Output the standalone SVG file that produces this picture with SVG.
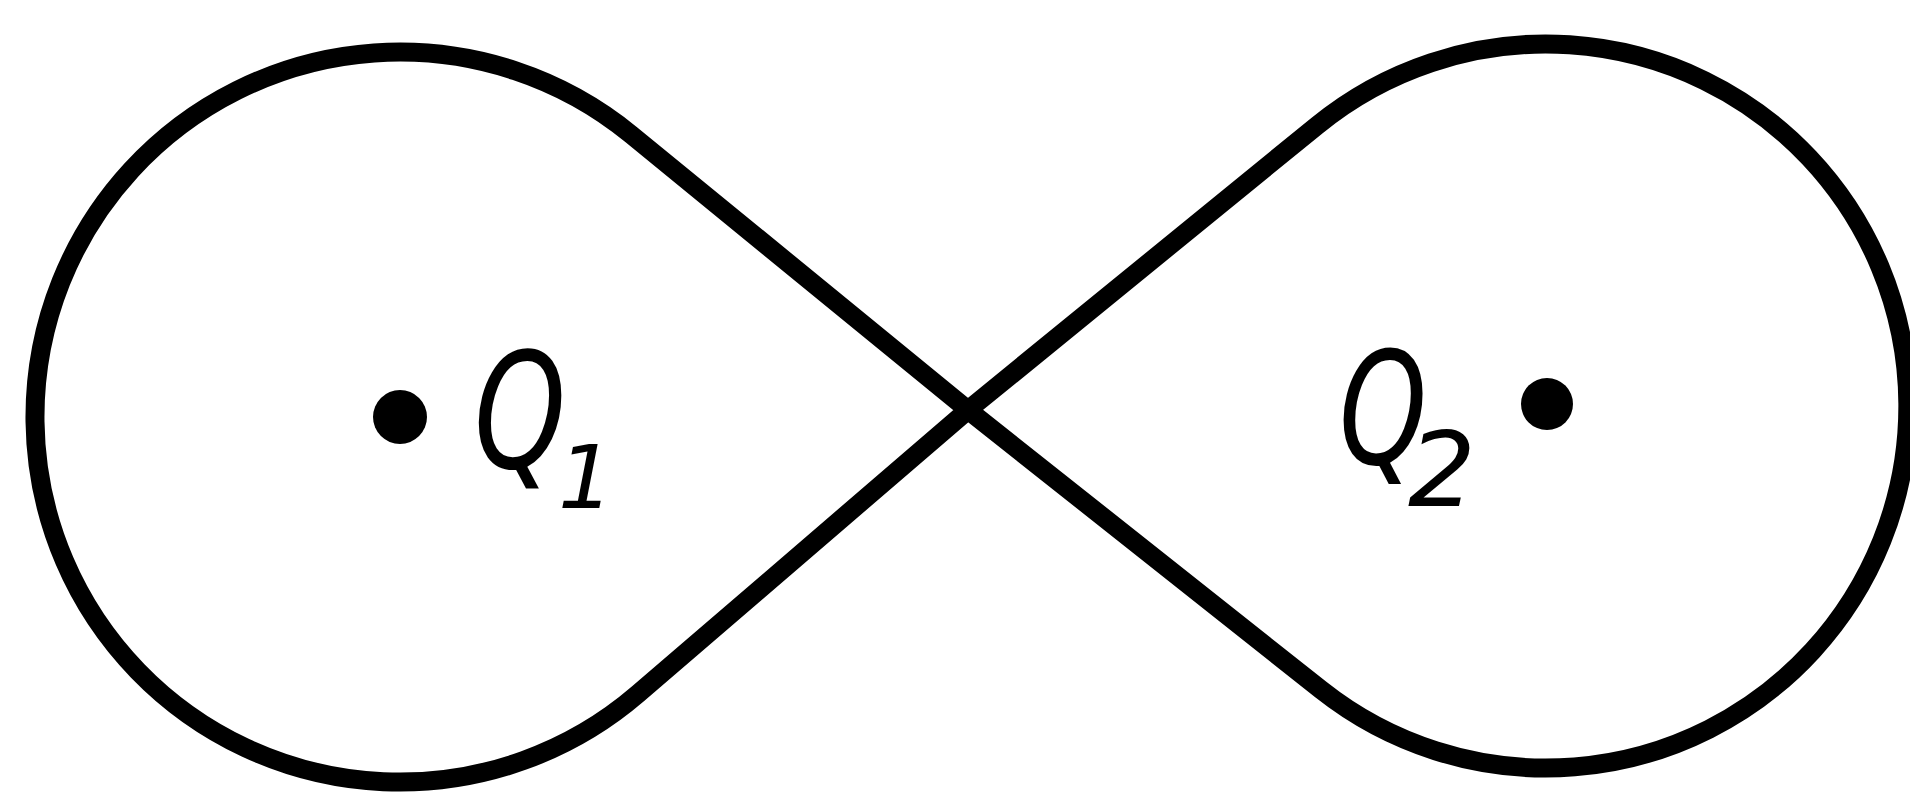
<svg xmlns="http://www.w3.org/2000/svg" width="1910" height="793" viewBox="0 0 1910 793">
  <style>
    .curve { fill: none; stroke: #000; stroke-width: 19; stroke-linejoin: round; stroke-linecap: round; }
    .dot { fill: #000; }
    .lbl { font-family: "DejaVu Sans", "Liberation Sans", sans-serif; font-style: oblique; fill: #000; }
  </style>
  <rect width="1910" height="793" fill="#fff"/>
  <g id="connectors">
    <path class="curve" d="M968,410 L631,134.5 A365,365 0 1 0 638,693.8 L968,410 L1317.3,125.3 A362,362 0 1 1 1321.1,689.8 Z"/>
  </g>
  <g id="Q1">
    <circle class="dot" cx="400" cy="417" r="27"/>
    <text class="lbl" x="474" y="468" font-size="160" textLength="92" lengthAdjust="spacingAndGlyphs">Q</text>
    <text class="lbl" x="558" y="508" font-size="88">1</text>
  </g>
  <g id="Q2">
    <circle class="dot" cx="1547" cy="404" r="26"/>
    <text class="lbl" x="1339" y="464" font-size="156" textLength="88" lengthAdjust="spacingAndGlyphs">Q</text>
    <text class="lbl" x="1408" y="506" font-size="104" textLength="68" lengthAdjust="spacingAndGlyphs">2</text>
  </g>
</svg>
